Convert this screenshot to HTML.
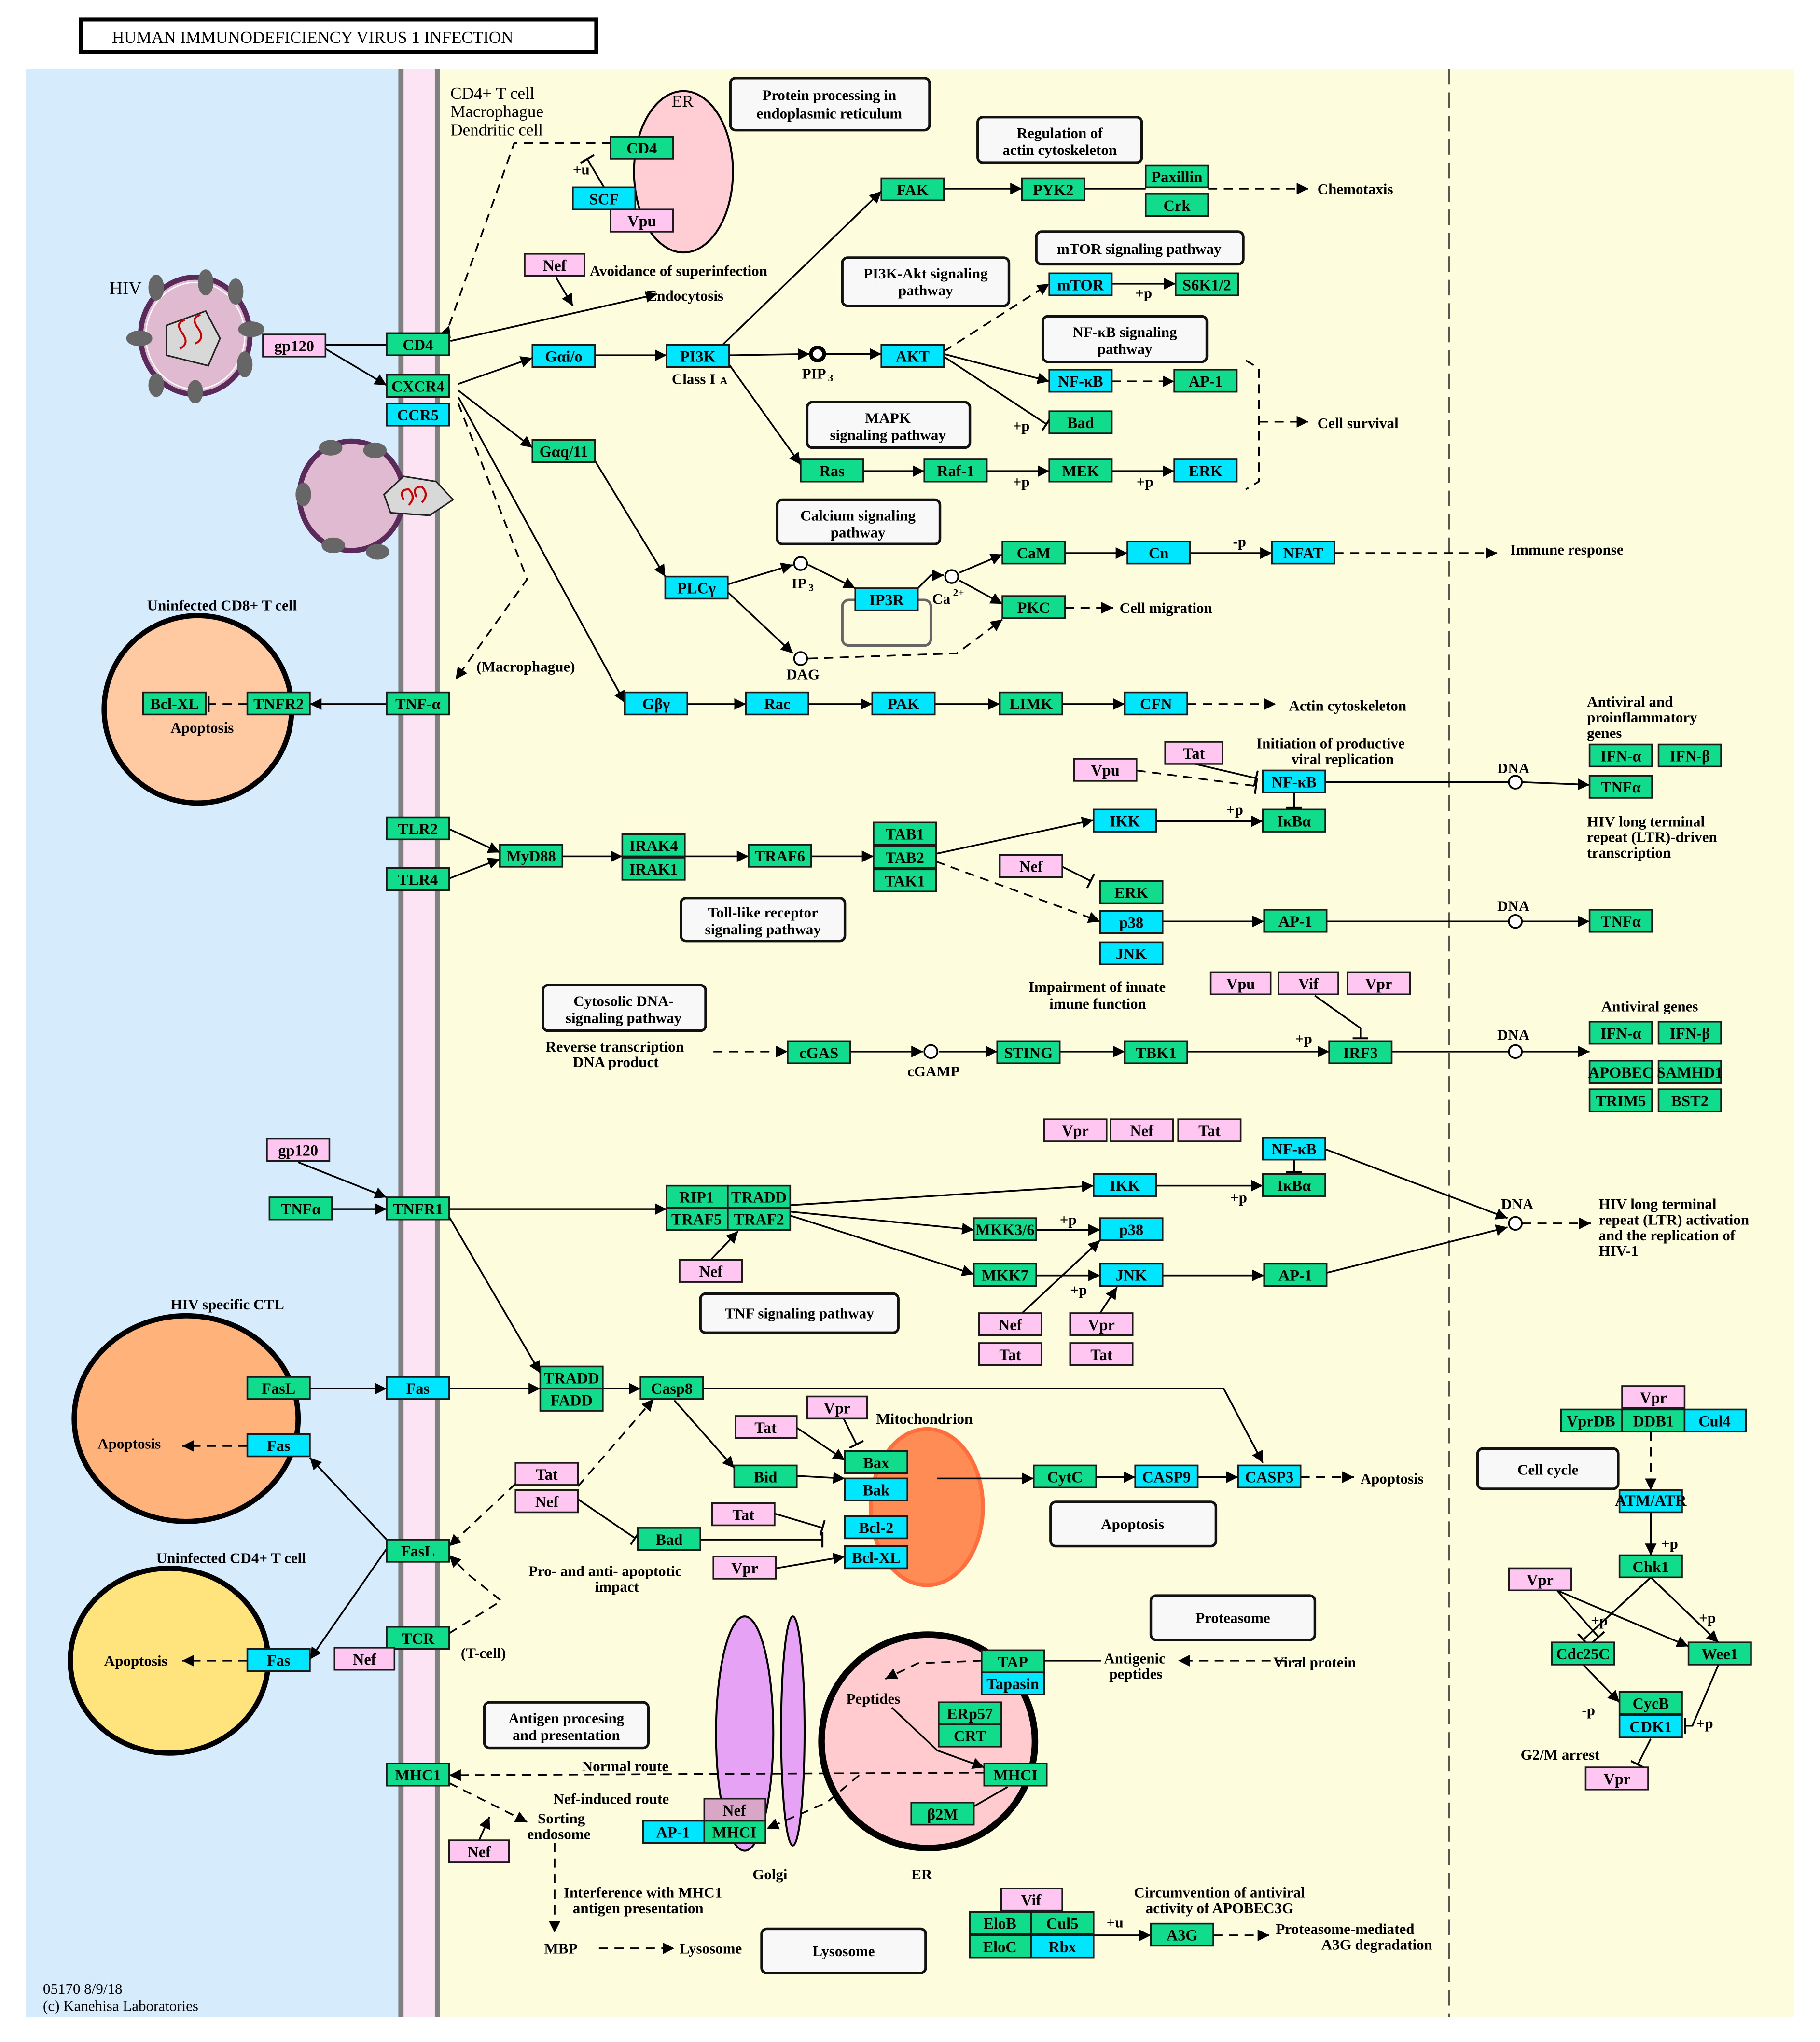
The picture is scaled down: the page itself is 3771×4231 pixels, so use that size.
<!DOCTYPE html>
<html><head><meta charset="utf-8">
<style>
html,body{margin:0;padding:0;background:#fff}
svg{display:block}
.g{fill:#10dc8c;stroke:#1a1a1a;stroke-width:1.3}
.c{fill:#00e6ff;stroke:#1a1a1a;stroke-width:1.3}
.p{fill:#ffc6f2;stroke:#1a1a1a;stroke-width:1.3}
.n{font-family:"Liberation Serif",serif;font-weight:bold;font-size:12px;text-anchor:middle;fill:#000}
.l{font-family:"Liberation Serif",serif;font-weight:bold;font-size:11.5px;fill:#000}
.lc{font-family:"Liberation Serif",serif;font-weight:bold;font-size:11.5px;fill:#000;text-anchor:middle}
.box{fill:#f8f8f8;stroke:#111;stroke-width:2}
.e{stroke:#000;stroke-width:1.3;fill:none}
.d{stroke:#000;stroke-width:1.3;fill:none;stroke-dasharray:7,5}
</style></head><body>
<svg width="3771" height="4231" viewBox="0 0 1398 1569" preserveAspectRatio="none" xmlns="http://www.w3.org/2000/svg">
<defs>
<marker id="a" viewBox="0 0 10 10" refX="10" refY="5" markerWidth="9" markerHeight="9" orient="auto" markerUnits="userSpaceOnUse"><path d="M0,0 L10,5 L0,10 z" fill="#000"/></marker>
<marker id="b" viewBox="0 0 4 12" refX="2" refY="6" markerWidth="4" markerHeight="12" orient="auto" markerUnits="userSpaceOnUse"><rect x="1" y="0" width="1.5" height="12" fill="#000"/></marker>
</defs>
<rect width="1398" height="1569" fill="#fff"/>
<rect x="62" y="15" width="396" height="25" fill="#fff" stroke="#000" stroke-width="3"/>
<text x="86" y="33" font-family="Liberation Serif,serif" font-size="13" fill="#000">HUMAN IMMUNODEFICIENCY VIRUS 1 INFECTION</text>
<rect x="20" y="53" width="288" height="1497" fill="#d6ebfb"/>
<rect x="310" y="53" width="26" height="1497" fill="#fde4f4"/>
<rect x="306" y="53" width="4" height="1497" fill="#808080"/>
<rect x="334" y="53" width="4" height="1497" fill="#808080"/>
<rect x="338" y="53" width="1040" height="1497" fill="#fdfcdd"/>
<line x1="1113" y1="53" x2="1113" y2="1550" stroke="#555" stroke-width="1.3" stroke-dasharray="12,6"/>

<ellipse cx="525" cy="132" rx="38" ry="62" fill="#ffcdd3" stroke="#000" stroke-width="1.5"/>
<text x="516" y="82" font-family="Liberation Serif" font-size="13">ER</text>
<text x="346" y="76" font-family="Liberation Serif" font-size="13">CD4+ T cell</text>
<text x="346" y="90" font-family="Liberation Serif" font-size="13">Macrophague</text>
<text x="346" y="104" font-family="Liberation Serif" font-size="13">Dendritic cell</text>
<text x="84" y="226" font-family="Liberation Serif" font-size="14">HIV</text>

<g>
<ellipse cx="150" cy="258" rx="42" ry="45" fill="#e0bad0" stroke="#5a2a5a" stroke-width="4"/>
<ellipse cx="150" cy="258" rx="38" ry="41" fill="none" stroke="#fff" stroke-width="1"/>
<polygon points="128,250 158,239 169,260 160,281 128,273" fill="#d8d8d8" stroke="#222" stroke-width="1.2"/>
<path d="M140,256 q-6,-8 2,-10 M140,256 q6,8 -2,12 M152,252 q-6,-8 2,-10 M152,252 q6,8 -2,12" stroke="#c00" stroke-width="1.5" fill="none"/>
<g fill="#666"><ellipse cx="158" cy="217" rx="6" ry="10"/><ellipse cx="181" cy="224" rx="6" ry="10"/><ellipse cx="193" cy="253" rx="10" ry="6"/><ellipse cx="188" cy="280" rx="6" ry="10"/><ellipse cx="150" cy="301" rx="6" ry="9"/><ellipse cx="120" cy="296" rx="6" ry="9"/><ellipse cx="107" cy="260" rx="10" ry="6"/><ellipse cx="120" cy="221" rx="6" ry="10"/></g>
</g>
<g>
<ellipse cx="270" cy="381" rx="40" ry="42" fill="#e0bad0" stroke="#5a2a5a" stroke-width="4"/>
<polygon points="295,380 310,366 335,370 348,384 330,396 300,394" fill="#d8d8d8" stroke="#222" stroke-width="1.2"/>
<path d="M310,384 q-4,-8 4,-8 q6,6 0,12 M320,382 q-4,-8 4,-8 q6,6 0,12" stroke="#c00" stroke-width="1.5" fill="none"/>
<g fill="#666"><ellipse cx="254" cy="344" rx="9" ry="6"/><ellipse cx="288" cy="346" rx="9" ry="6"/><ellipse cx="233" cy="380" rx="6" ry="9"/><ellipse cx="256" cy="419" rx="9" ry="6"/><ellipse cx="290" cy="424" rx="9" ry="6"/></g>
</g>

<circle cx="152" cy="545" r="72" fill="#ffc9a1" stroke="#000" stroke-width="4"/>
<ellipse cx="143" cy="1090" rx="86" ry="79" fill="#ffb37a" stroke="#000" stroke-width="4"/>
<ellipse cx="130" cy="1276" rx="76" ry="71" fill="#ffe37c" stroke="#000" stroke-width="4"/>
<text x="113" y="469" class="l">Uninfected CD8+ T cell</text>
<text x="131" y="1006" class="l">HIV specific CTL</text>
<text x="120" y="1201" class="l">Uninfected CD4+ T cell</text>

<ellipse cx="712" cy="1158" rx="43" ry="60" fill="#ff8c55" stroke="#ff6e3c" stroke-width="3"/>
<ellipse cx="572" cy="1332" rx="22" ry="90" fill="#e6a2f4" stroke="#000" stroke-width="1.5"/>
<ellipse cx="609" cy="1330" rx="9" ry="88" fill="#e6a2f4" stroke="#000" stroke-width="1.5"/>
<circle cx="713" cy="1338" r="82" fill="#ffcbcf" stroke="#000" stroke-width="5"/>
<text x="700" y="1444" class="l">ER</text>
<text x="578" y="1444" class="l">Golgi</text>

<g>
<rect x="561" y="60" width="153" height="40" rx="4" class="box"/><text x="637" y="77" class="lc">Protein processing in</text><text x="637" y="91" class="lc">endoplasmic reticulum</text>
<rect x="751" y="90" width="126" height="35" rx="4" class="box"/><text x="814" y="106" class="lc">Regulation of</text><text x="814" y="119" class="lc">actin cytoskeleton</text>
<rect x="796" y="178" width="159" height="25" rx="4" class="box"/><text x="875" y="195" class="lc">mTOR signaling pathway</text>
<rect x="647" y="198" width="128" height="37" rx="4" class="box"/><text x="711" y="214" class="lc">PI3K-Akt signaling</text><text x="711" y="227" class="lc">pathway</text>
<rect x="801" y="243" width="126" height="35" rx="4" class="box"/><text x="864" y="259" class="lc">NF-κB signaling</text><text x="864" y="272" class="lc">pathway</text>
<rect x="620" y="309" width="125" height="35" rx="4" class="box"/><text x="682" y="325" class="lc">MAPK</text><text x="682" y="338" class="lc">signaling pathway</text>
<rect x="597" y="384" width="125" height="34" rx="4" class="box"/><text x="659" y="400" class="lc">Calcium signaling</text><text x="659" y="413" class="lc">pathway</text>
<rect x="523" y="690" width="126" height="33" rx="4" class="box"/><text x="586" y="705" class="lc">Toll-like receptor</text><text x="586" y="718" class="lc">signaling pathway</text>
<rect x="417" y="757" width="125" height="35" rx="4" class="box"/><text x="479" y="773" class="lc">Cytosolic DNA-</text><text x="479" y="786" class="lc">signaling pathway</text>
<rect x="538" y="994" width="152" height="30" rx="4" class="box"/><text x="614" y="1013" class="lc">TNF signaling pathway</text>
<rect x="807" y="1154" width="127" height="34" rx="4" class="box"/><text x="870" y="1175" class="lc">Apoptosis</text>
<rect x="1135" y="1113" width="108" height="31" rx="4" class="box"/><text x="1189" y="1133" class="lc">Cell cycle</text>
<rect x="884" y="1226" width="126" height="34" rx="4" class="box"/><text x="947" y="1247" class="lc">Proteasome</text>
<rect x="372" y="1308" width="126" height="35" rx="4" class="box"/><text x="435" y="1324" class="lc">Antigen procesing</text><text x="435" y="1337" class="lc">and presentation</text>
<rect x="585" y="1482" width="126" height="34" rx="4" class="box"/><text x="648" y="1503" class="lc">Lysosome</text>
</g>

<g>
<path d="M345,250 L395,110 L469,110" class="d" marker-start="url(#a)"/>
<line x1="464" y1="144" x2="451" y2="122" class="e" marker-end="url(#b)"/>
<line x1="346" y1="262" x2="505" y2="226" class="e" marker-end="url(#a)"/>
<line x1="427" y1="213" x2="440" y2="235" class="e" marker-end="url(#a)"/>
<line x1="250" y1="265" x2="297" y2="265" class="e"/>
<line x1="250" y1="268" x2="297" y2="296" class="e" marker-end="url(#a)"/>
<line x1="352" y1="295" x2="409" y2="275" class="e" marker-end="url(#a)"/>
<line x1="457" y1="273" x2="512" y2="273" class="e" marker-end="url(#a)"/>
<line x1="560" y1="273" x2="622" y2="272" class="e" marker-end="url(#a)"/>
<line x1="634" y1="272" x2="677" y2="272" class="e" marker-end="url(#a)"/>
<line x1="555" y1="265" x2="677" y2="147" class="e" marker-end="url(#a)"/>
<line x1="725" y1="145" x2="785" y2="145" class="e" marker-end="url(#a)"/>
<line x1="833" y1="145" x2="880" y2="145" class="e"/>
<line x1="928" y1="145" x2="1005" y2="145" class="d" marker-end="url(#a)"/>
<line x1="725" y1="270" x2="806" y2="218" class="d" marker-end="url(#a)"/>
<line x1="854" y1="218" x2="903" y2="218" class="e" marker-end="url(#a)"/>
<line x1="725" y1="272" x2="806" y2="293" class="e" marker-end="url(#a)"/>
<line x1="854" y1="293" x2="902" y2="293" class="d" marker-end="url(#a)"/>
<line x1="725" y1="274" x2="804" y2="326" class="e" marker-end="url(#b)"/>
<line x1="560" y1="280" x2="615" y2="357" class="e" marker-end="url(#a)"/>
<line x1="663" y1="362" x2="710" y2="362" class="e" marker-end="url(#a)"/>
<line x1="758" y1="362" x2="806" y2="362" class="e" marker-end="url(#a)"/>
<line x1="854" y1="362" x2="902" y2="362" class="e" marker-end="url(#a)"/>
<path d="M957,277 L967,283 L967,370 L957,376" class="d"/>
<line x1="967" y1="324" x2="1005" y2="324" class="d" marker-end="url(#a)"/>
<line x1="352" y1="300" x2="409" y2="344" class="e" marker-end="url(#a)"/>
<line x1="457" y1="354" x2="511" y2="443" class="e" marker-end="url(#a)"/>
<line x1="559" y1="449" x2="609" y2="434" class="e" marker-end="url(#a)"/>
<line x1="621" y1="434" x2="657" y2="452" class="e" marker-end="url(#a)"/>
<line x1="559" y1="455" x2="609" y2="502" class="e" marker-end="url(#a)"/>
<path d="M705,452 L715,442 L725,442" class="e" marker-end="url(#a)"/>
<line x1="737" y1="440" x2="770" y2="426" class="e" marker-end="url(#a)"/>
<line x1="737" y1="446" x2="770" y2="464" class="e" marker-end="url(#a)"/>
<line x1="818" y1="425" x2="866" y2="425" class="e" marker-end="url(#a)"/>
<line x1="914" y1="425" x2="977" y2="425" class="e" marker-end="url(#a)"/>
<line x1="1025" y1="425" x2="1150" y2="425" class="d" marker-end="url(#a)"/>
<line x1="818" y1="467" x2="855" y2="467" class="d" marker-end="url(#a)"/>
<path d="M621,506 L735,502 L770,476" class="d" marker-end="url(#a)"/>
<rect x="647" y="461" width="68" height="35" rx="5" fill="none" stroke="#666" stroke-width="2"/>
<line x1="352" y1="305" x2="480" y2="540" class="e" marker-end="url(#a)"/>
<path d="M352,310 L405,445 L350,522" class="d" marker-end="url(#a)"/>
<line x1="528" y1="541" x2="573" y2="541" class="e" marker-end="url(#a)"/>
<line x1="621" y1="541" x2="670" y2="541" class="e" marker-end="url(#a)"/>
<line x1="718" y1="541" x2="768" y2="541" class="e" marker-end="url(#a)"/>
<line x1="816" y1="541" x2="864" y2="541" class="e" marker-end="url(#a)"/>
<line x1="912" y1="541" x2="980" y2="541" class="d" marker-end="url(#a)"/>
<line x1="297" y1="541" x2="238" y2="541" class="e" marker-end="url(#a)"/>
<line x1="190" y1="541" x2="160" y2="541" class="d" marker-end="url(#b)"/>
<line x1="918" y1="587" x2="965" y2="598" class="e" marker-end="url(#b)"/>
<line x1="873" y1="592" x2="965" y2="604" class="d" marker-end="url(#b)"/>
<line x1="994" y1="609" x2="994" y2="621" class="e" marker-end="url(#b)"/>
<line x1="888" y1="631" x2="970" y2="631" class="e" marker-end="url(#a)"/>
<line x1="1018" y1="601" x2="1159" y2="601" class="e"/>
<line x1="1169" y1="601" x2="1221" y2="603" class="e" marker-end="url(#a)"/>
<line x1="345" y1="637" x2="384" y2="655" class="e" marker-end="url(#a)"/>
<line x1="345" y1="675" x2="384" y2="660" class="e" marker-end="url(#a)"/>
<line x1="432" y1="658" x2="478" y2="658" class="e" marker-end="url(#a)"/>
<line x1="526" y1="658" x2="575" y2="658" class="e" marker-end="url(#a)"/>
<line x1="623" y1="658" x2="671" y2="658" class="e" marker-end="url(#a)"/>
<line x1="719" y1="656" x2="840" y2="630" class="e" marker-end="url(#a)"/>
<path d="M816,666 L838,677" class="e" marker-end="url(#b)"/>
<line x1="719" y1="662" x2="845" y2="708" class="d" marker-end="url(#a)"/>
<line x1="893" y1="708" x2="971" y2="708" class="e" marker-end="url(#a)"/>
<line x1="1019" y1="708" x2="1159" y2="708" class="e"/>
<line x1="1169" y1="708" x2="1221" y2="708" class="e" marker-end="url(#a)"/>
<line x1="548" y1="808" x2="605" y2="808" class="d" marker-end="url(#a)"/>
<line x1="653" y1="808" x2="709" y2="808" class="e" marker-end="url(#a)"/>
<line x1="721" y1="808" x2="766" y2="808" class="e" marker-end="url(#a)"/>
<line x1="814" y1="808" x2="864" y2="808" class="e" marker-end="url(#a)"/>
<line x1="912" y1="808" x2="1021" y2="808" class="e" marker-end="url(#a)"/>
<path d="M1010,765 L1045,790 L1045,798" class="e" marker-end="url(#b)"/>
<line x1="1069" y1="808" x2="1159" y2="808" class="e"/>
<line x1="1169" y1="808" x2="1221" y2="808" class="e" marker-end="url(#a)"/>
<line x1="229" y1="893" x2="297" y2="920" class="e" marker-end="url(#a)"/>
<line x1="255" y1="929" x2="297" y2="929" class="e" marker-end="url(#a)"/>
<line x1="345" y1="929" x2="512" y2="929" class="e" marker-end="url(#a)"/>
<line x1="607" y1="926" x2="840" y2="911" class="e" marker-end="url(#a)"/>
<line x1="888" y1="911" x2="970" y2="911" class="e" marker-end="url(#a)"/>
<line x1="994" y1="891" x2="994" y2="901" class="e" marker-end="url(#b)"/>
<line x1="1018" y1="883" x2="1158" y2="936" class="e" marker-end="url(#a)"/>
<line x1="607" y1="931" x2="748" y2="945" class="e" marker-end="url(#a)"/>
<line x1="607" y1="934" x2="748" y2="979" class="e" marker-end="url(#a)"/>
<line x1="796" y1="945" x2="845" y2="945" class="e" marker-end="url(#a)"/>
<line x1="796" y1="980" x2="845" y2="980" class="e" marker-end="url(#a)"/>
<line x1="893" y1="980" x2="971" y2="980" class="e" marker-end="url(#a)"/>
<line x1="1019" y1="978" x2="1158" y2="943" class="e" marker-end="url(#a)"/>
<line x1="1169" y1="940" x2="1222" y2="940" class="d" marker-end="url(#a)"/>
<line x1="546" y1="968" x2="567" y2="946" class="e" marker-end="url(#a)"/>
<line x1="785" y1="1009" x2="845" y2="953" class="e" marker-end="url(#a)"/>
<line x1="845" y1="1009" x2="858" y2="989" class="e" marker-end="url(#a)"/>
<line x1="345" y1="935" x2="415" y2="1055" class="e" marker-end="url(#a)"/>
<line x1="238" y1="1067" x2="297" y2="1067" class="e" marker-end="url(#a)"/>
<line x1="345" y1="1067" x2="415" y2="1067" class="e" marker-end="url(#a)"/>
<line x1="463" y1="1067" x2="492" y2="1067" class="e" marker-end="url(#a)"/>
<path d="M540,1067 L940,1067 L970,1124" class="e" marker-end="url(#a)"/>
<line x1="518" y1="1076" x2="564" y2="1128" class="e" marker-end="url(#a)"/>
<line x1="612" y1="1134" x2="649" y2="1136" class="e" marker-end="url(#a)"/>
<line x1="612" y1="1097" x2="649" y2="1122" class="e" marker-end="url(#a)"/>
<line x1="648" y1="1090" x2="658" y2="1110" class="e" marker-end="url(#b)"/>
<line x1="190" y1="1111" x2="140" y2="1111" class="d" marker-end="url(#a)"/>
<line x1="720" y1="1136" x2="794" y2="1136" class="e" marker-end="url(#a)"/>
<line x1="842" y1="1135" x2="872" y2="1135" class="e" marker-end="url(#a)"/>
<line x1="920" y1="1135" x2="951" y2="1135" class="e" marker-end="url(#a)"/>
<line x1="999" y1="1135" x2="1040" y2="1135" class="d" marker-end="url(#a)"/>
<line x1="595" y1="1163" x2="632" y2="1174" class="e" marker-end="url(#b)"/>
<line x1="538" y1="1183" x2="632" y2="1183" class="e" marker-end="url(#b)"/>
<line x1="596" y1="1205" x2="649" y2="1196" class="e" marker-end="url(#a)"/>
<line x1="444" y1="1152" x2="488" y2="1182" class="e" marker-end="url(#b)"/>
<line x1="444" y1="1142" x2="502" y2="1075" class="d" marker-end="url(#a)"/>
<line x1="396" y1="1140" x2="345" y2="1188" class="d" marker-end="url(#a)"/>
<line x1="297" y1="1183" x2="238" y2="1120" class="e" marker-end="url(#a)"/>
<line x1="297" y1="1190" x2="238" y2="1275" class="e" marker-end="url(#a)"/>
<line x1="190" y1="1276" x2="140" y2="1276" class="d" marker-end="url(#a)"/>
<path d="M345,1255 L385,1230 L360,1210 L345,1195" class="d" marker-end="url(#a)"/>
<line x1="1000" y1="1276" x2="905" y2="1276" class="d" marker-end="url(#a)"/>
<line x1="846" y1="1276" x2="802" y2="1276" class="e"/>
<path d="M754,1276 L705,1278 L680,1290" class="d" marker-end="url(#a)"/>
<path d="M685,1312 L720,1345 L756,1358" class="e" marker-end="url(#a)"/>
<line x1="756" y1="1362" x2="345" y2="1364" class="d" marker-end="url(#a)"/>
<path d="M660,1364 L635,1385 L589,1405" class="d" marker-end="url(#a)"/>
<line x1="774" y1="1373" x2="748" y2="1388" class="e"/>
<path d="M345,1370 L405,1400" class="d" marker-end="url(#a)"/>
<line x1="368" y1="1414" x2="376" y2="1396" class="e" marker-end="url(#a)"/>
<line x1="426" y1="1416" x2="426" y2="1485" class="d" marker-end="url(#a)"/>
<line x1="460" y1="1497" x2="518" y2="1497" class="d" marker-end="url(#a)"/>
<line x1="840" y1="1487" x2="884" y2="1487" class="e" marker-end="url(#a)"/>
<line x1="932" y1="1487" x2="975" y2="1487" class="d" marker-end="url(#a)"/>
<line x1="1268" y1="1100" x2="1268" y2="1145" class="d" marker-end="url(#a)"/>
<line x1="1268" y1="1162" x2="1268" y2="1195" class="e" marker-end="url(#a)"/>
<line x1="1268" y1="1212" x2="1216" y2="1260" class="e" marker-end="url(#b)"/>
<line x1="1268" y1="1212" x2="1320" y2="1262" class="e" marker-end="url(#a)"/>
<line x1="1196" y1="1222" x2="1297" y2="1265" class="e" marker-end="url(#a)"/>
<line x1="1196" y1="1222" x2="1228" y2="1258" class="e" marker-end="url(#b)"/>
<line x1="1216" y1="1279" x2="1244" y2="1308" class="e" marker-end="url(#a)"/>
<path d="M1320,1279 L1300,1326 L1294,1326" class="e" marker-end="url(#b)"/>
<line x1="1268" y1="1336" x2="1258" y2="1356" class="e" marker-end="url(#b)"/>
</g>

<g>
<rect x="469" y="105" width="48" height="17" class="g"/><text x="493" y="118" class="n">CD4</text>
<rect x="440" y="144" width="48" height="17" class="c"/><text x="464" y="157" class="n">SCF</text>
<rect x="469" y="161" width="48" height="17" class="p"/><text x="493" y="174" class="n">Vpu</text>
<rect x="403" y="195" width="46" height="17" class="p"/><text x="426" y="208" class="n">Nef</text>
<rect x="202" y="257" width="48" height="17" class="p"/><text x="226" y="270" class="n">gp120</text>
<rect x="297" y="256" width="48" height="17" class="g"/><text x="321" y="269" class="n">CD4</text>
<rect x="297" y="288" width="48" height="17" class="g"/><text x="321" y="301" class="n">CXCR4</text>
<rect x="297" y="310" width="48" height="17" class="c"/><text x="321" y="323" class="n">CCR5</text>
<rect x="677" y="137" width="48" height="17" class="g"/><text x="701" y="150" class="n">FAK</text>
<rect x="785" y="137" width="48" height="17" class="g"/><text x="809" y="150" class="n">PYK2</text>
<rect x="880" y="127" width="48" height="17" class="g"/><text x="904" y="140" class="n">Paxillin</text>
<rect x="880" y="149" width="48" height="17" class="g"/><text x="904" y="162" class="n">Crk</text>
<rect x="806" y="210" width="48" height="17" class="c"/><text x="830" y="223" class="n">mTOR</text>
<rect x="903" y="210" width="48" height="17" class="g"/><text x="927" y="223" class="n">S6K1/2</text>
<rect x="409" y="265" width="48" height="17" class="c"/><text x="433" y="278" class="n">Gαi/o</text>
<rect x="512" y="265" width="48" height="17" class="c"/><text x="536" y="278" class="n">PI3K</text>
<rect x="677" y="265" width="48" height="17" class="c"/><text x="701" y="278" class="n">AKT</text>
<rect x="806" y="284" width="48" height="17" class="c"/><text x="830" y="297" class="n">NF-κB</text>
<rect x="902" y="284" width="48" height="17" class="g"/><text x="926" y="297" class="n">AP-1</text>
<rect x="806" y="316" width="48" height="17" class="g"/><text x="830" y="329" class="n">Bad</text>
<rect x="615" y="353" width="48" height="17" class="g"/><text x="639" y="366" class="n">Ras</text>
<rect x="710" y="353" width="48" height="17" class="g"/><text x="734" y="366" class="n">Raf-1</text>
<rect x="806" y="353" width="48" height="17" class="g"/><text x="830" y="366" class="n">MEK</text>
<rect x="902" y="353" width="48" height="17" class="c"/><text x="926" y="366" class="n">ERK</text>
<rect x="409" y="338" width="48" height="17" class="g"/><text x="433" y="351" class="n">Gαq/11</text>
<rect x="511" y="443" width="48" height="17" class="c"/><text x="535" y="456" class="n">PLCγ</text>
<rect x="657" y="452" width="48" height="17" class="c"/><text x="681" y="465" class="n">IP3R</text>
<rect x="770" y="416" width="48" height="17" class="g"/><text x="794" y="429" class="n">CaM</text>
<rect x="866" y="416" width="48" height="17" class="c"/><text x="890" y="429" class="n">Cn</text>
<rect x="977" y="416" width="48" height="17" class="c"/><text x="1001" y="429" class="n">NFAT</text>
<rect x="770" y="458" width="48" height="17" class="g"/><text x="794" y="471" class="n">PKC</text>
<rect x="480" y="532" width="48" height="17" class="c"/><text x="504" y="545" class="n">Gβγ</text>
<rect x="573" y="532" width="48" height="17" class="c"/><text x="597" y="545" class="n">Rac</text>
<rect x="670" y="532" width="48" height="17" class="c"/><text x="694" y="545" class="n">PAK</text>
<rect x="768" y="532" width="48" height="17" class="g"/><text x="792" y="545" class="n">LIMK</text>
<rect x="864" y="532" width="48" height="17" class="c"/><text x="888" y="545" class="n">CFN</text>
<rect x="297" y="532" width="48" height="17" class="g"/><text x="321" y="545" class="n">TNF-α</text>
<rect x="110" y="532" width="48" height="17" class="g"/><text x="134" y="545" class="n">Bcl-XL</text>
<rect x="190" y="532" width="48" height="17" class="g"/><text x="214" y="545" class="n">TNFR2</text>
<rect x="1221" y="572" width="48" height="17" class="g"/><text x="1245" y="585" class="n">IFN-α</text>
<rect x="1274" y="572" width="48" height="17" class="g"/><text x="1298" y="585" class="n">IFN-β</text>
<rect x="1221" y="596" width="48" height="17" class="g"/><text x="1245" y="609" class="n">TNFα</text>
<rect x="895" y="570" width="44" height="17" class="p"/><text x="917" y="583" class="n">Tat</text>
<rect x="825" y="583" width="48" height="17" class="p"/><text x="849" y="596" class="n">Vpu</text>
<rect x="970" y="592" width="48" height="17" class="c"/><text x="994" y="605" class="n">NF-κB</text>
<rect x="970" y="622" width="48" height="17" class="g"/><text x="994" y="635" class="n">IκBα</text>
<rect x="840" y="622" width="48" height="17" class="c"/><text x="864" y="635" class="n">IKK</text>
<rect x="297" y="628" width="48" height="17" class="g"/><text x="321" y="641" class="n">TLR2</text>
<rect x="297" y="667" width="48" height="17" class="g"/><text x="321" y="680" class="n">TLR4</text>
<rect x="384" y="649" width="48" height="17" class="g"/><text x="408" y="662" class="n">MyD88</text>
<rect x="478" y="641" width="48" height="17" class="g"/><text x="502" y="654" class="n">IRAK4</text>
<rect x="478" y="659" width="48" height="17" class="g"/><text x="502" y="672" class="n">IRAK1</text>
<rect x="575" y="649" width="48" height="17" class="g"/><text x="599" y="662" class="n">TRAF6</text>
<rect x="671" y="632" width="48" height="17" class="g"/><text x="695" y="645" class="n">TAB1</text>
<rect x="671" y="650" width="48" height="17" class="g"/><text x="695" y="663" class="n">TAB2</text>
<rect x="671" y="668" width="48" height="17" class="g"/><text x="695" y="681" class="n">TAK1</text>
<rect x="768" y="657" width="48" height="17" class="p"/><text x="792" y="670" class="n">Nef</text>
<rect x="845" y="677" width="48" height="17" class="g"/><text x="869" y="690" class="n">ERK</text>
<rect x="845" y="700" width="48" height="17" class="c"/><text x="869" y="713" class="n">p38</text>
<rect x="845" y="724" width="48" height="17" class="c"/><text x="869" y="737" class="n">JNK</text>
<rect x="971" y="699" width="48" height="17" class="g"/><text x="995" y="712" class="n">AP-1</text>
<rect x="1221" y="699" width="48" height="17" class="g"/><text x="1245" y="712" class="n">TNFα</text>
<rect x="930" y="747" width="46" height="17" class="p"/><text x="953" y="760" class="n">Vpu</text>
<rect x="982" y="747" width="46" height="17" class="p"/><text x="1005" y="760" class="n">Vif</text>
<rect x="1035" y="747" width="48" height="17" class="p"/><text x="1059" y="760" class="n">Vpr</text>
<rect x="605" y="800" width="48" height="17" class="g"/><text x="629" y="813" class="n">cGAS</text>
<rect x="766" y="800" width="48" height="17" class="g"/><text x="790" y="813" class="n">STING</text>
<rect x="864" y="800" width="48" height="17" class="g"/><text x="888" y="813" class="n">TBK1</text>
<rect x="1021" y="800" width="48" height="17" class="g"/><text x="1045" y="813" class="n">IRF3</text>
<rect x="1221" y="785" width="48" height="17" class="g"/><text x="1245" y="798" class="n">IFN-α</text>
<rect x="1274" y="785" width="48" height="17" class="g"/><text x="1298" y="798" class="n">IFN-β</text>
<rect x="1221" y="815" width="48" height="17" class="g"/><text x="1245" y="828" class="n" font-size="10">APOBEC</text>
<rect x="1274" y="815" width="48" height="17" class="g"/><text x="1298" y="828" class="n" font-size="10">SAMHD1</text>
<rect x="1221" y="837" width="48" height="17" class="g"/><text x="1245" y="850" class="n">TRIM5</text>
<rect x="1274" y="837" width="48" height="17" class="g"/><text x="1298" y="850" class="n">BST2</text>
<rect x="802" y="860" width="48" height="17" class="p"/><text x="826" y="873" class="n">Vpr</text>
<rect x="853" y="860" width="48" height="17" class="p"/><text x="877" y="873" class="n">Nef</text>
<rect x="905" y="860" width="48" height="17" class="p"/><text x="929" y="873" class="n">Tat</text>
<rect x="970" y="874" width="48" height="17" class="c"/><text x="994" y="887" class="n">NF-κB</text>
<rect x="970" y="902" width="48" height="17" class="g"/><text x="994" y="915" class="n">IκBα</text>
<rect x="840" y="902" width="48" height="17" class="c"/><text x="864" y="915" class="n">IKK</text>
<rect x="205" y="875" width="48" height="17" class="p"/><text x="229" y="888" class="n">gp120</text>
<rect x="207" y="920" width="48" height="17" class="g"/><text x="231" y="933" class="n">TNFα</text>
<rect x="297" y="920" width="48" height="17" class="g"/><text x="321" y="933" class="n">TNFR1</text>
<rect x="512" y="911" width="47" height="17" class="g"/><text x="535" y="924" class="n">RIP1</text>
<rect x="559" y="911" width="48" height="17" class="g"/><text x="583" y="924" class="n">TRADD</text>
<rect x="512" y="928" width="47" height="17" class="g"/><text x="535" y="941" class="n">TRAF5</text>
<rect x="559" y="928" width="48" height="17" class="g"/><text x="583" y="941" class="n">TRAF2</text>
<rect x="748" y="936" width="48" height="17" class="g"/><text x="772" y="949" class="n">MKK3/6</text>
<rect x="845" y="936" width="48" height="17" class="c"/><text x="869" y="949" class="n">p38</text>
<rect x="748" y="971" width="48" height="17" class="g"/><text x="772" y="984" class="n">MKK7</text>
<rect x="845" y="971" width="48" height="17" class="c"/><text x="869" y="984" class="n">JNK</text>
<rect x="971" y="971" width="48" height="17" class="g"/><text x="995" y="984" class="n">AP-1</text>
<rect x="522" y="968" width="48" height="17" class="p"/><text x="546" y="981" class="n">Nef</text>
<rect x="752" y="1009" width="48" height="17" class="p"/><text x="776" y="1022" class="n">Nef</text>
<rect x="752" y="1032" width="48" height="17" class="p"/><text x="776" y="1045" class="n">Tat</text>
<rect x="822" y="1009" width="48" height="17" class="p"/><text x="846" y="1022" class="n">Vpr</text>
<rect x="822" y="1032" width="48" height="17" class="p"/><text x="846" y="1045" class="n">Tat</text>
<rect x="190" y="1058" width="48" height="17" class="g"/><text x="214" y="1071" class="n">FasL</text>
<rect x="190" y="1102" width="48" height="17" class="c"/><text x="214" y="1115" class="n">Fas</text>
<rect x="297" y="1058" width="48" height="17" class="c"/><text x="321" y="1071" class="n">Fas</text>
<rect x="415" y="1050" width="48" height="17" class="g"/><text x="439" y="1063" class="n">TRADD</text>
<rect x="415" y="1067" width="48" height="17" class="g"/><text x="439" y="1080" class="n">FADD</text>
<rect x="492" y="1058" width="48" height="17" class="g"/><text x="516" y="1071" class="n">Casp8</text>
<rect x="620" y="1073" width="46" height="17" class="p"/><text x="643" y="1086" class="n">Vpr</text>
<rect x="565" y="1088" width="47" height="17" class="p"/><text x="588" y="1101" class="n">Tat</text>
<rect x="649" y="1115" width="48" height="17" class="g"/><text x="673" y="1128" class="n">Bax</text>
<rect x="649" y="1136" width="48" height="17" class="c"/><text x="673" y="1149" class="n">Bak</text>
<rect x="649" y="1165" width="48" height="17" class="c"/><text x="673" y="1178" class="n">Bcl-2</text>
<rect x="649" y="1188" width="48" height="17" class="c"/><text x="673" y="1201" class="n">Bcl-XL</text>
<rect x="564" y="1126" width="48" height="17" class="g"/><text x="588" y="1139" class="n">Bid</text>
<rect x="794" y="1126" width="48" height="17" class="g"/><text x="818" y="1139" class="n">CytC</text>
<rect x="872" y="1126" width="48" height="17" class="c"/><text x="896" y="1139" class="n">CASP9</text>
<rect x="951" y="1126" width="48" height="17" class="c"/><text x="975" y="1139" class="n">CASP3</text>
<rect x="396" y="1124" width="48" height="17" class="p"/><text x="420" y="1137" class="n">Tat</text>
<rect x="396" y="1145" width="48" height="17" class="p"/><text x="420" y="1158" class="n">Nef</text>
<rect x="490" y="1174" width="48" height="17" class="g"/><text x="514" y="1187" class="n">Bad</text>
<rect x="547" y="1155" width="48" height="17" class="p"/><text x="571" y="1168" class="n">Tat</text>
<rect x="548" y="1196" width="48" height="17" class="p"/><text x="572" y="1209" class="n">Vpr</text>
<rect x="297" y="1183" width="48" height="17" class="g"/><text x="321" y="1196" class="n">FasL</text>
<rect x="297" y="1250" width="48" height="17" class="g"/><text x="321" y="1263" class="n">TCR</text>
<rect x="257" y="1266" width="46" height="17" class="p"/><text x="280" y="1279" class="n">Nef</text>
<rect x="190" y="1267" width="48" height="17" class="c"/><text x="214" y="1280" class="n">Fas</text>
<rect x="1246" y="1065" width="48" height="17" class="p"/><text x="1270" y="1078" class="n">Vpr</text>
<rect x="1199" y="1083" width="47" height="17" class="g"/><text x="1222" y="1096" class="n">VprDB</text>
<rect x="1246" y="1083" width="48" height="17" class="g"/><text x="1270" y="1096" class="n">DDB1</text>
<rect x="1294" y="1083" width="47" height="17" class="c"/><text x="1317" y="1096" class="n">Cul4</text>
<rect x="1244" y="1145" width="48" height="17" class="c"/><text x="1268" y="1157" class="n" font-size="9">ATM/ATR</text>
<rect x="1244" y="1195" width="48" height="17" class="g"/><text x="1268" y="1208" class="n">Chk1</text>
<rect x="1159" y="1205" width="48" height="17" class="p"/><text x="1183" y="1218" class="n">Vpr</text>
<rect x="1192" y="1262" width="48" height="17" class="g"/><text x="1216" y="1275" class="n">Cdc25C</text>
<rect x="1297" y="1262" width="48" height="17" class="g"/><text x="1321" y="1275" class="n">Wee1</text>
<rect x="1244" y="1300" width="48" height="17" class="g"/><text x="1268" y="1313" class="n">CycB</text>
<rect x="1244" y="1318" width="48" height="17" class="c"/><text x="1268" y="1331" class="n">CDK1</text>
<rect x="1218" y="1358" width="48" height="17" class="p"/><text x="1242" y="1371" class="n">Vpr</text>
<rect x="754" y="1268" width="48" height="17" class="g"/><text x="778" y="1281" class="n">TAP</text>
<rect x="754" y="1285" width="48" height="17" class="c"/><text x="778" y="1298" class="n">Tapasin</text>
<rect x="721" y="1308" width="48" height="17" class="g"/><text x="745" y="1321" class="n">ERp57</text>
<rect x="721" y="1325" width="48" height="17" class="g"/><text x="745" y="1338" class="n">CRT</text>
<rect x="756" y="1355" width="48" height="17" class="g"/><text x="780" y="1368" class="n">MHCI</text>
<rect x="700" y="1385" width="48" height="17" class="g"/><text x="724" y="1398" class="n">β2M</text>
<rect x="297" y="1355" width="48" height="17" class="g"/><text x="321" y="1368" class="n">MHC1</text>
<rect x="541" y="1382" width="47" height="17" fill="#d8a6c6" stroke="#1a1a1a" stroke-width="1.3"/><text x="564" y="1395" class="n">Nef</text>
<rect x="494" y="1399" width="47" height="17" class="c"/><text x="517" y="1412" class="n">AP-1</text>
<rect x="541" y="1399" width="47" height="17" class="g"/><text x="564" y="1412" class="n">MHCI</text>
<rect x="345" y="1414" width="46" height="17" class="p"/><text x="368" y="1427" class="n">Nef</text>
<rect x="769" y="1451" width="47" height="17" class="p"/><text x="792" y="1464" class="n">Vif</text>
<rect x="745" y="1469" width="47" height="17" class="g"/><text x="768" y="1482" class="n">EloB</text>
<rect x="792" y="1469" width="48" height="17" class="g"/><text x="816" y="1482" class="n">Cul5</text>
<rect x="745" y="1487" width="47" height="17" class="g"/><text x="768" y="1500" class="n">EloC</text>
<rect x="792" y="1487" width="48" height="17" class="c"/><text x="816" y="1500" class="n">Rbx</text>
<rect x="884" y="1478" width="48" height="17" class="g"/><text x="908" y="1491" class="n">A3G</text>
</g>

<g fill="#fff" stroke="#000" stroke-width="1.3">
<circle cx="628" cy="272" r="5" stroke-width="3"/>
<circle cx="615" cy="433" r="5"/><circle cx="731" cy="443" r="5"/><circle cx="615" cy="506" r="5"/>
<circle cx="1164" cy="601" r="5"/><circle cx="1164" cy="708" r="5"/><circle cx="715" cy="808" r="5"/>
<circle cx="1164" cy="808" r="5"/><circle cx="1164" cy="940" r="5"/>
</g>

<g class="l">
<text x="440" y="134" class="l" font-weight="normal">+u</text>
<text x="453" y="212">Avoidance of superinfection</text>
<text x="497" y="231">Endocytosis</text>
<text x="1012" y="149">Chemotaxis</text>
<text x="872" y="229">+p</text>
<text x="516" y="295">Class I</text><text x="553" y="295" font-size="8">A</text>
<text x="616" y="291">PIP</text><text x="636" y="293" font-size="8">3</text>
<text x="778" y="331">+p</text><text x="778" y="374">+p</text><text x="873" y="374">+p</text>
<text x="1012" y="329">Cell survival</text>
<text x="608" y="452">IP</text><text x="621" y="454" font-size="8">3</text>
<text x="716" y="464">Ca</text><text x="732" y="458" font-size="8">2+</text>
<text x="947" y="420">-p</text>
<text x="1160" y="426">Immune response</text>
<text x="860" y="471">Cell migration</text>
<text x="604" y="522">DAG</text>
<text x="366" y="516">(Macrophague)</text>
<text x="990" y="546">Actin cytoskeleton</text>
<text x="131" y="563">Apoptosis</text>
<text x="1219" y="543">Antiviral and</text><text x="1219" y="555">proinflammatory</text><text x="1219" y="567">genes</text>
<text x="965" y="575">Initiation of productive</text><text x="992" y="587">viral replication</text>
<text x="1150" y="594">DNA</text>
<text x="1219" y="635">HIV long terminal</text><text x="1219" y="647">repeat (LTR)-driven</text><text x="1219" y="659">transcription</text>
<text x="942" y="626">+p</text>
<text x="1150" y="700">DNA</text>
<text x="790" y="762">Impairment of innate</text><text x="806" y="775">imune function</text>
<text x="419" y="808">Reverse transcription</text><text x="440" y="820">DNA product</text>
<text x="697" y="827">cGAMP</text>
<text x="995" y="802">+p</text>
<text x="1150" y="799">DNA</text>
<text x="1230" y="777">Antiviral genes</text>
<text x="945" y="924">+p</text>
<text x="1153" y="929">DNA</text>
<text x="1228" y="929">HIV long terminal</text><text x="1228" y="941">repeat (LTR) activation</text><text x="1228" y="953">and the replication of</text><text x="1228" y="965">HIV-1</text>
<text x="814" y="941">+p</text><text x="822" y="995">+p</text>
<text x="673" y="1094">Mitochondrion</text>
<text x="75" y="1113">Apoptosis</text>
<text x="1045" y="1140">Apoptosis</text>
<text x="406" y="1211">Pro- and anti- apoptotic</text><text x="457" y="1223">impact</text>
<text x="354" y="1274">(T-cell)</text>
<text x="80" y="1280">Apoptosis</text>
<text x="848" y="1278">Antigenic</text><text x="852" y="1290">peptides</text>
<text x="978" y="1281">Viral protein</text>
<text x="650" y="1309">Peptides</text>
<text x="447" y="1361">Normal route</text>
<text x="425" y="1386">Nef-induced route</text>
<text x="413" y="1401">Sorting</text><text x="405" y="1413">endosome</text>
<text x="433" y="1458">Interference with MHC1</text><text x="440" y="1470">antigen presentation</text>
<text x="418" y="1501">MBP</text>
<text x="522" y="1501">Lysosome</text>
<text x="871" y="1458">Circumvention of antiviral</text><text x="880" y="1470">activity of APOBEC3G</text>
<text x="850" y="1481">+u</text>
<text x="980" y="1486">Proteasome-mediated</text><text x="1015" y="1498">A3G degradation</text>
<text x="1276" y="1190">+p</text><text x="1222" y="1249">+p</text><text x="1305" y="1247">+p</text>
<text x="1215" y="1318">-p</text><text x="1303" y="1328">+p</text>
<text x="1168" y="1352">G2/M arrest</text>
<text x="33" y="1532" font-weight="normal">05170 8/9/18</text>
<text x="33" y="1545" font-weight="normal">(c) Kanehisa Laboratories</text>
</g>
</svg>
</body></html>
